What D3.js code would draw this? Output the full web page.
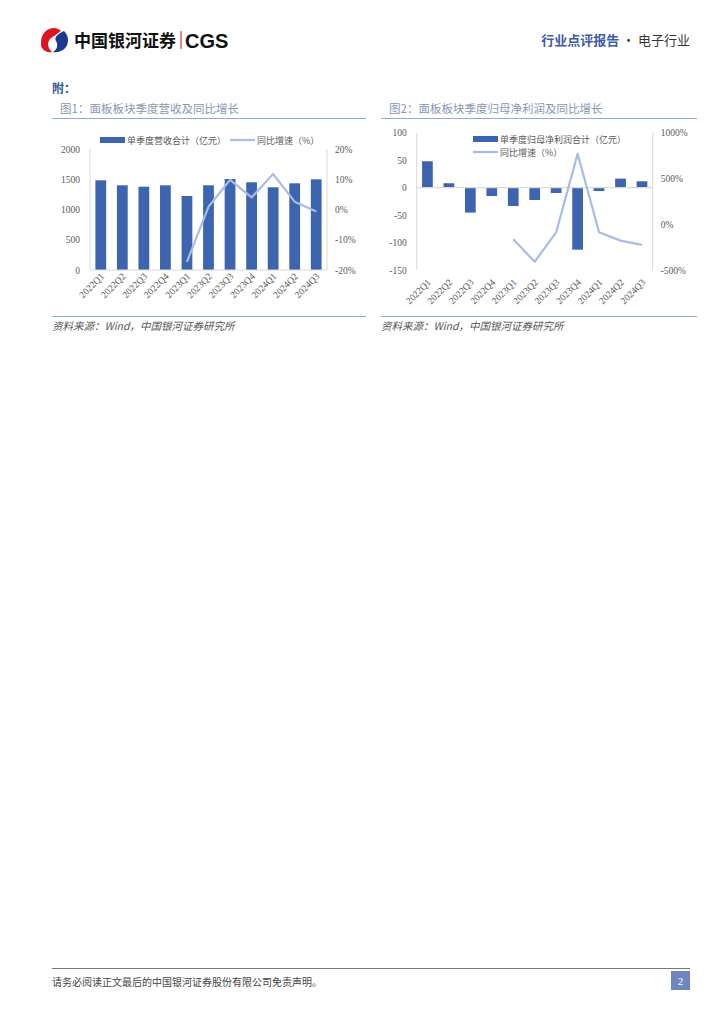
<!doctype html>
<html>
<head>
<meta charset="utf-8"/>
<style>
  body { margin: 0; background: #fff; }
  svg { display: block; }
  text { font-family: "Liberation Serif", "Noto Sans CJK SC", serif; }
  .cjk { font-family: "Noto Sans CJK SC", sans-serif; }
</style>
<script src="https://d3js.org/d3.v7.min.js"></script>
</head>
<body>
<svg id="page" width="724" height="1024"></svg>
<script>
var quarters = ["2022Q1","2022Q2","2022Q3","2022Q4","2023Q1","2023Q2","2023Q3","2023Q4","2024Q1","2024Q2","2024Q3"];

// 图1: 营收 (亿元) and 同比 (%)
var revenue = [1483, 1400, 1377, 1400, 1223, 1400, 1504, 1450, 1367, 1433, 1499];
var revenueYoY = [null, null, null, null, -17.3, 0.9, 9.8, 4.0, 11.7, 2.6, -0.7];
var revTicks = [0, 500, 1000, 1500, 2000];
var revYoYTicks = [-20, -10, 0, 10, 20];

// 图2: 归母净利润 (亿元) and 同比 (%)
var profit = [48, 8, -45.5, -15.3, -33.5, -22.6, -9.8, -113, -6.2, 16.4, 11.5];
var profitYoY = [null, null, null, null, -164, -409, -88, 769, -88, -179, -226];
var profitTicks = [-150, -100, -50, 0, 50, 100];
var profitYoYTicks = [-500, 0, 500, 1000];

var barColor = "#3d64ae";
var lineColor = "#a7bde6";
var axisGray = "#d9d9d9";

var svg = d3.select("#page");

// ---------- header ----------
var logo = svg.append("g").attr("transform", "translate(55,40)");
logo.append("path")
  .attr("d", "M-1,-12 C-9,-12 -14,-5 -14,2 C-14,9 -9,12 -4,12 C-9,8 -9,2 -5,-2 C-2,-5 2,-6 6,-9 C4,-11 1,-12 -1,-12 Z")
  .attr("fill", "#e0141e");
logo.append("path")
  .attr("d", "M-14,6 C-12,11 -7,13 -3,12 C-8,8 -8,1 -4,-2 C-1,-4 3,-6 4,-9 C-4,-7 -12,-3 -14,6 Z")
  .attr("fill", "#e0141e");
logo.append("path")
  .attr("d", "M9,-9 C13,-5 14,0 12,5 C10,10 4,13 -2,12 C3,9 3,4 1,1 C-1,-2 2,-6 9,-9 Z")
  .attr("fill", "#1a3a8f");

svg.append("text").attr("class", "cjk").attr("x", 74).attr("y", 47)
  .attr("font-size", 17).attr("font-weight", "bold").attr("fill", "#111")
  .text("中国银河证券");
svg.append("line").attr("x1", 181).attr("x2", 181).attr("y1", 31).attr("y2", 49)
  .attr("stroke", "#c8161d").attr("stroke-width", 1);
svg.append("text").attr("x", 185).attr("y", 48)
  .style("font-family", "Liberation Sans, Arial, sans-serif")
  .attr("font-size", 20).attr("font-weight", "bold").attr("fill", "#111")
  .text("CGS");

var hr = svg.append("text").attr("class", "cjk").attr("x", 690).attr("y", 45)
  .attr("text-anchor", "end").attr("font-size", 13);
hr.append("tspan").attr("fill", "#3b5ca8").attr("font-weight", "bold").text("行业点评报告");
hr.append("tspan").attr("fill", "#333").text(" · 电子行业");

svg.append("text").attr("class", "cjk").attr("x", 52).attr("y", 93)
  .attr("font-size", 12).attr("font-weight", "bold").attr("fill", "#2f5597")
  .text("附：");

// ---------- footer ----------
svg.append("line").attr("x1", 52).attr("x2", 690).attr("y1", 968.5).attr("y2", 968.5)
  .attr("stroke", "#777").attr("stroke-width", 1);
svg.append("text").attr("class", "cjk").attr("x", 52).attr("y", 986)
  .attr("font-size", 10).attr("fill", "#444")
  .text("请务必阅读正文最后的中国银河证券股份有限公司免责声明。");
svg.append("rect").attr("x", 671).attr("y", 971).attr("width", 19).attr("height", 19)
  .attr("fill", "#6d87be");
svg.append("text").attr("x", 680.5).attr("y", 985).attr("text-anchor", "middle")
  .attr("font-size", 11).attr("fill", "#fff").text("2");

// ---------- chart builder ----------
function drawChart(opt) {
  var g = svg.append("g");

  g.append("text").attr("class", "cjk").attr("x", opt.titleX).attr("y", 113)
    .attr("font-size", 11.5).attr("fill", "#8797b4").text(opt.title);
  g.append("line").attr("x1", opt.boxL).attr("x2", opt.boxR).attr("y1", 118.5).attr("y2", 118.5)
    .attr("stroke", "#8eaadb").attr("stroke-width", 1.2);
  g.append("line").attr("x1", opt.boxL).attr("x2", opt.boxR).attr("y1", 316.5).attr("y2", 316.5)
    .attr("stroke", "#8eaadb").attr("stroke-width", 1.2);
  g.append("text").attr("class", "cjk").attr("x", opt.boxL).attr("y", 330)
    .attr("font-size", 10.5).attr("fill", "#555").attr("font-style", "italic")
    .text("资料来源：Wind，中国银河证券研究所");

  var x = d3.scaleBand().domain(quarters).range([opt.left, opt.right])
    .paddingInner(0.5).paddingOuter(0.25);
  var y = d3.scaleLinear().domain(opt.yDomain).range([opt.bottom, opt.top]);
  var y2 = d3.scaleLinear().domain(opt.y2Domain).range([opt.bottom, opt.top]);

  // vertical axis lines
  [opt.left, opt.right].forEach(function(px) {
    g.append("line").attr("x1", px).attr("x2", px).attr("y1", opt.top).attr("y2", opt.bottom)
      .attr("stroke", axisGray).attr("stroke-width", 1);
  });

  // left ticks
  g.selectAll(".yl").data(opt.yTicks).join("text")
    .attr("x", opt.left - 10).attr("y", function(d) { return y(d) + 3.5; })
    .attr("text-anchor", "end").attr("font-size", 9.5).attr("fill", "#595959")
    .text(function(d) { return d; });
  // right ticks
  g.selectAll(".yr").data(opt.y2Ticks).join("text")
    .attr("x", opt.right + 8).attr("y", function(d) { return y2(d) + 3.5; })
    .attr("text-anchor", "start").attr("font-size", 9.5).attr("fill", "#595959")
    .text(function(d) { return d + "%"; });

  // bars
  g.selectAll(".bar").data(opt.bars).join("rect")
    .attr("x", function(d, i) { return x(quarters[i]); })
    .attr("width", x.bandwidth())
    .attr("y", function(d) { return y(Math.max(0, d)); })
    .attr("height", function(d) { return Math.abs(y(d) - y(0)); })
    .attr("fill", barColor);

  // zero line
  g.append("line").attr("x1", opt.left).attr("x2", opt.right)
    .attr("y1", y(0)).attr("y2", y(0))
    .attr("stroke", axisGray).attr("stroke-width", 1.2);

  // yoy line
  var line = d3.line()
    .defined(function(d) { return d != null; })
    .x(function(d, i) { return x(quarters[i]) + x.bandwidth() / 2; })
    .y(function(d) { return y2(d); });
  g.append("path").datum(opt.yoy).attr("d", line)
    .attr("fill", "none").attr("stroke", lineColor).attr("stroke-width", 2.2)
    .attr("stroke-linejoin", "round");

  // category labels
  g.selectAll(".xl").data(quarters).join("text")
    .attr("transform", function(d) {
      return "translate(" + (x(d) + x.bandwidth() / 2 + 4) + "," + opt.labelY + ") rotate(-45)";
    })
    .attr("text-anchor", "end").attr("font-size", 9.5).attr("fill", "#595959")
    .text(function(d) { return d; });

  // legend
  opt.legend.forEach(function(l) {
    if (l.type === "bar") {
      g.append("rect").attr("x", l.x).attr("y", l.y - 3).attr("width", 25).attr("height", 6)
        .attr("fill", barColor);
    } else {
      g.append("line").attr("x1", l.x).attr("x2", l.x + 25).attr("y1", l.y).attr("y2", l.y)
        .attr("stroke", lineColor).attr("stroke-width", 2.2);
    }
    g.append("text").attr("class", "cjk").attr("x", l.x + 27).attr("y", l.y + 3.5)
      .attr("font-size", 9).attr("fill", "#595959").text(l.text);
  });
}

drawChart({
  title: "图1：面板板块季度营收及同比增长",
  titleX: 60, boxL: 52, boxR: 366,
  left: 90, right: 327, top: 149, bottom: 270,
  yDomain: [0, 2000], y2Domain: [-20, 20],
  yTicks: revTicks, y2Ticks: revYoYTicks,
  bars: revenue, yoy: revenueYoY, labelY: 277,
  legend: [
    { type: "bar", x: 100, y: 140, text: "单季度营收合计（亿元）" },
    { type: "line", x: 230, y: 140, text: "同比增速（%）" }
  ]
});

drawChart({
  title: "图2：面板板块季度归母净利润及同比增长",
  titleX: 389, boxL: 381, boxR: 697,
  left: 416.7, right: 652.7, top: 132.7, bottom: 270,
  yDomain: [-150, 100], y2Domain: [-500, 1000],
  yTicks: profitTicks, y2Ticks: profitYoYTicks,
  bars: profit, yoy: profitYoY, labelY: 283,
  legend: [
    { type: "bar", x: 473, y: 139, text: "单季度归母净利润合计（亿元）" },
    { type: "line", x: 473, y: 152, text: "同比增速（%）" }
  ]
});
</script>
</body>
</html>
